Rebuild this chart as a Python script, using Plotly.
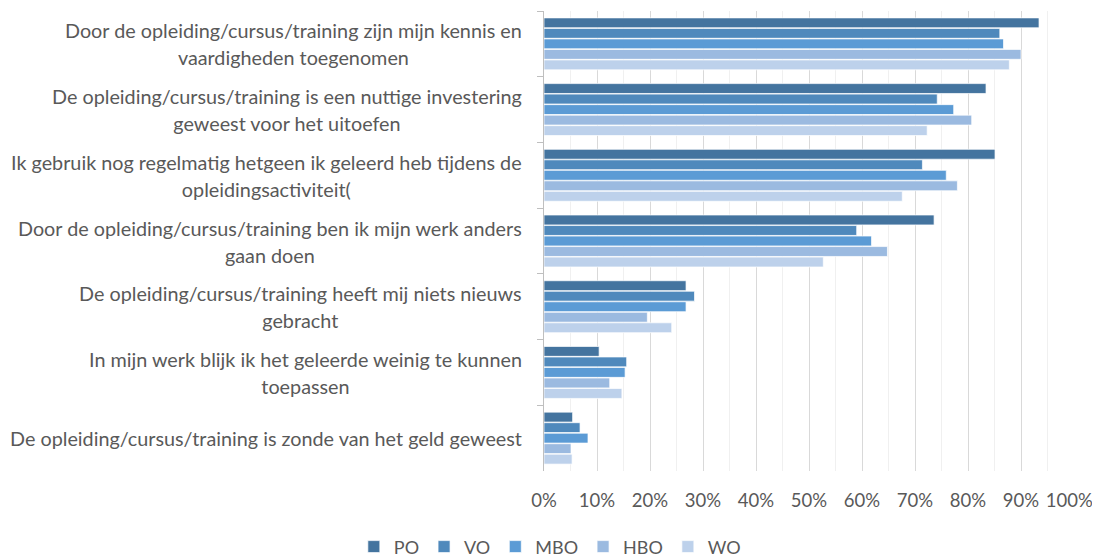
import plotly.graph_objects as go

# statements (top to bottom), each split in two lines as in the source chart
statements = [
    ["Door de opleiding/cursus/training zijn mijn kennis en", "vaardigheden toegenomen"],
    ["De opleiding/cursus/training is een nuttige investering", "geweest voor het uitoefen"],
    ["Ik gebruik nog regelmatig hetgeen ik geleerd heb tijdens de", "opleidingsactiviteit("],
    ["Door de opleiding/cursus/training ben ik mijn werk anders", "gaan doen"],
    ["De opleiding/cursus/training heeft mij niets nieuws", "gebracht"],
    ["In mijn werk blijk ik het geleerde weinig te kunnen", "toepassen"],
    ["De opleiding/cursus/training is zonde van het geld geweest"],
]

po  = [0.934, 0.834, 0.851, 0.736, 0.268, 0.104, 0.054]
vo  = [0.860, 0.742, 0.714, 0.590, 0.284, 0.156, 0.068]
mbo = [0.867, 0.773, 0.759, 0.618, 0.268, 0.153, 0.083]
hbo = [0.900, 0.807, 0.780, 0.648, 0.195, 0.124, 0.051]
wo  = [0.878, 0.723, 0.676, 0.527, 0.241, 0.147, 0.053]

series = ["PO", "VO", "MBO", "HBO", "WO"]
values = [po, vo, mbo, hbo, wo]
colors = ["#44749F", "#4F89BC", "#5B9BD5", "#9BBAE0", "#BDD1EB"]

tick_vals = [0, 0.1, 0.2, 0.3, 0.4, 0.5, 0.6, 0.7, 0.8, 0.9, 1.0]
tick_text = ["0%", "10%", "20%", "30%", "40%", "50%", "60%", "70%", "80%", "90%",
             "100%\u00a0\u00a0"]  # nbsp keeps the last label inside the page

font = "Lato, 'Open Sans', sans-serif"
grey = "#595959"

cats = [" ".join(s) for s in statements]

fig = go.Figure()
for name, vals, col in zip(series, values, colors):
    fig.add_trace(go.Bar(
        y=cats, x=vals, name=name, orientation="h",
        marker=dict(color=col, line=dict(color="rgba(255,255,255,0.7)", width=1)),
    ))

# category labels: centered multi-line blocks, right edge next to the axis
for cat, lines in zip(cats, statements):
    txt = "<br>".join("<span style='font-size:19.8px'>%s</span>" % l for l in lines)
    fig.add_annotation(
        x=0, xref="paper", y=cat, yref="y", text=txt, showarrow=False,
        xanchor="right", yanchor="middle", align="center", xshift=-20,
        font=dict(family=font, size=21, color=grey),
    )

# the page body adds an 8px margin, so the figure is shifted 8px right/down;
# it is made a bit taller than the window so the legend doesn't push the margin
fig.update_layout(
    width=1092, height=565,
    margin=dict(l=536, r=26, t=3, b=102),
    paper_bgcolor="white", plot_bgcolor="white",
    barmode="group", bargap=0.2, bargroupgap=0.06,
    font=dict(family=font, size=19, color=grey),
    legend=dict(orientation="h", x=0.011, xanchor="center", y=-0.165, yanchor="middle",
                font=dict(size=18, color=grey), itemwidth=30, traceorder="normal"),
    xaxis=dict(range=[0, 1], tickvals=tick_vals, ticktext=tick_text, showgrid=True,
               gridcolor="#d9d9d9", gridwidth=1, zeroline=False, showline=False,
               ticks="", tickfont=dict(size=18.5, color=grey), ticklabelstandoff=16,
               automargin=False, ticklabeloverflow="allow",
               minor=dict(dtick=0.05, showgrid=True, gridcolor="#f0f0f0", gridwidth=1)),
    yaxis=dict(autorange="reversed", showticklabels=False, showline=True,
               linecolor="#bfbfbf", linewidth=1, ticks="outside", tickson="boundaries",
               ticklen=6, tickcolor="#bfbfbf", showgrid=False, automargin=False),
)

fig.write_html("out.html")
